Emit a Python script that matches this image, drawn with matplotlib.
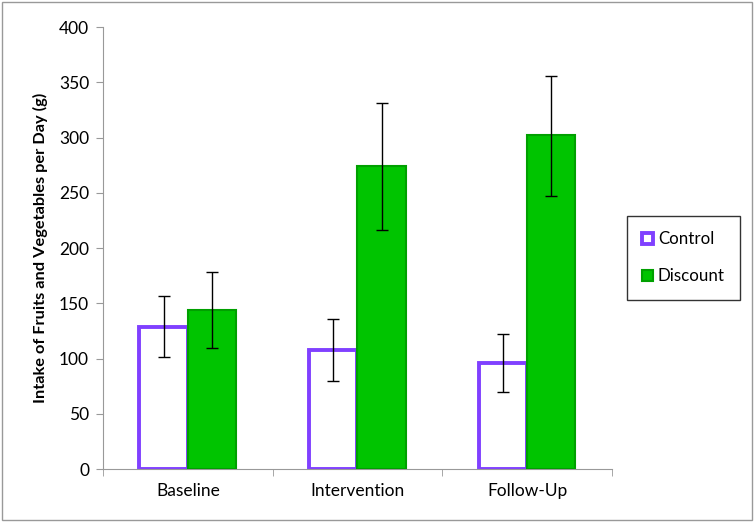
import matplotlib.pyplot as plt
import numpy as np

plt.rcParams['font.family'] = ['Lato', 'DejaVu Sans']

categories = ['Baseline', 'Intervention', 'Follow-Up']
control = [129, 108, 96]
control_lo = [101, 80, 70]
control_hi = [157, 136, 122]
discount = [144, 274, 302]
discount_lo = [110, 216, 247]
discount_hi = [178, 331, 356]

fig = plt.figure(figsize=(7.54, 5.22), dpi=100)
ax = fig.add_axes([0.1366, 0.1015, 0.675, 0.8465])

x = np.arange(len(categories))
w = 0.285

c_err = [np.subtract(control, control_lo), np.subtract(control_hi, control)]
d_err = [np.subtract(discount, discount_lo), np.subtract(discount_hi, discount)]

ax.bar(x - w / 2, control, w, color='white', edgecolor='#8040ff', linewidth=2.8,
       label='Control', zorder=2)
ax.bar(x + w / 2, discount, w, color='#00c400', edgecolor='#00a000', linewidth=1.5,
       label='Discount', zorder=3)
ax.errorbar(x - w / 2, control, yerr=c_err, fmt='none', ecolor='black',
            elinewidth=1, capsize=4, capthick=1, zorder=4)
ax.errorbar(x + w / 2, discount, yerr=d_err, fmt='none', ecolor='black',
            elinewidth=1, capsize=4, capthick=1, zorder=4)

ax.set_xlim(-0.5, len(categories) - 0.5)
ax.set_ylim(0, 400)
ax.set_yticks(range(0, 401, 50))
ax.set_xticks(x)
ax.set_xticklabels(categories, fontsize=12.5)
ax.set_xticks(np.arange(-0.5, len(categories), 1), minor=True)
ax.tick_params(axis='x', which='major', length=0, pad=10)
ax.tick_params(axis='x', which='minor', length=5, color='#999999')
ax.tick_params(axis='y', length=5, color='#999999', labelsize=12.5, pad=5)
ax.set_ylabel('Intake of Fruits and Vegetables per Day (g)', fontsize=11.8,
              fontweight='bold', labelpad=8)
for s in ['top', 'right']:
    ax.spines[s].set_visible(False)
for s in ['left', 'bottom']:
    ax.spines[s].set_color('#999999')

leg = ax.legend(loc='center left', bbox_to_anchor=(1.012, 0.478), fontsize=12.2,
                frameon=True, fancybox=False, edgecolor='black',
                handlelength=0.65, handleheight=0.65, handletextpad=0.3,
                labelspacing=1.25, borderpad=0.9)
leg.get_frame().set_linewidth(1)

fig.patches.append(plt.Rectangle((0.003, 0.003), 0.994, 0.994, transform=fig.transFigure,
                                 fill=False, edgecolor='#999999', linewidth=1))

plt.savefig('out.png', dpi=100)
